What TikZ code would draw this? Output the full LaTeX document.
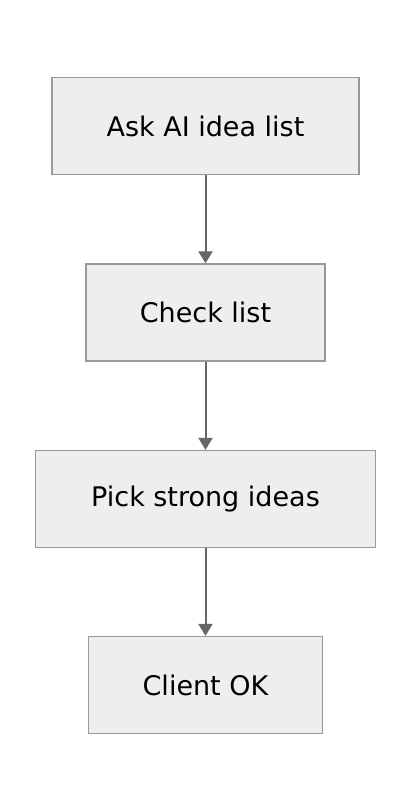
\documentclass[tikz,border=0pt]{standalone}
\usepackage{fontspec}
\setmainfont{DejaVu Sans}
\usetikzlibrary{arrows.meta}
\definecolor{boxfill}{HTML}{EEEEEE}
\definecolor{boxline}{HTML}{999999}
\definecolor{arrowcol}{HTML}{666666}
\begin{document}
\begin{tikzpicture}[x=1pt,y=1pt,
  stepbox/.style={draw=boxline,fill=boxfill,line width=1.3pt,minimum height=97pt,inner sep=0pt,font=\fontsize{27}{32}\selectfont},
  flow/.style={draw=arrowcol,line width=2pt,-{Triangle[width=14pt,length=12pt]}}]
\useasboundingbox (0,0) rectangle (412,-812);
\fill[white] (0,0) rectangle (412,-812);
\node[stepbox,minimum width=307pt] (a) at (205.5,-126) {Ask AI idea list};
\node[stepbox,minimum width=239pt] (b) at (205.5,-312.5) {Check list};
\node[stepbox,minimum width=340pt] (c) at (205.5,-499) {Pick strong ideas};
\node[stepbox,minimum width=234pt] (d) at (205.5,-685) {Client OK};
\draw[flow] (a) -- (b);
\draw[flow] (b) -- (c);
\draw[flow] (c) -- (d);
\end{tikzpicture}
\end{document}
